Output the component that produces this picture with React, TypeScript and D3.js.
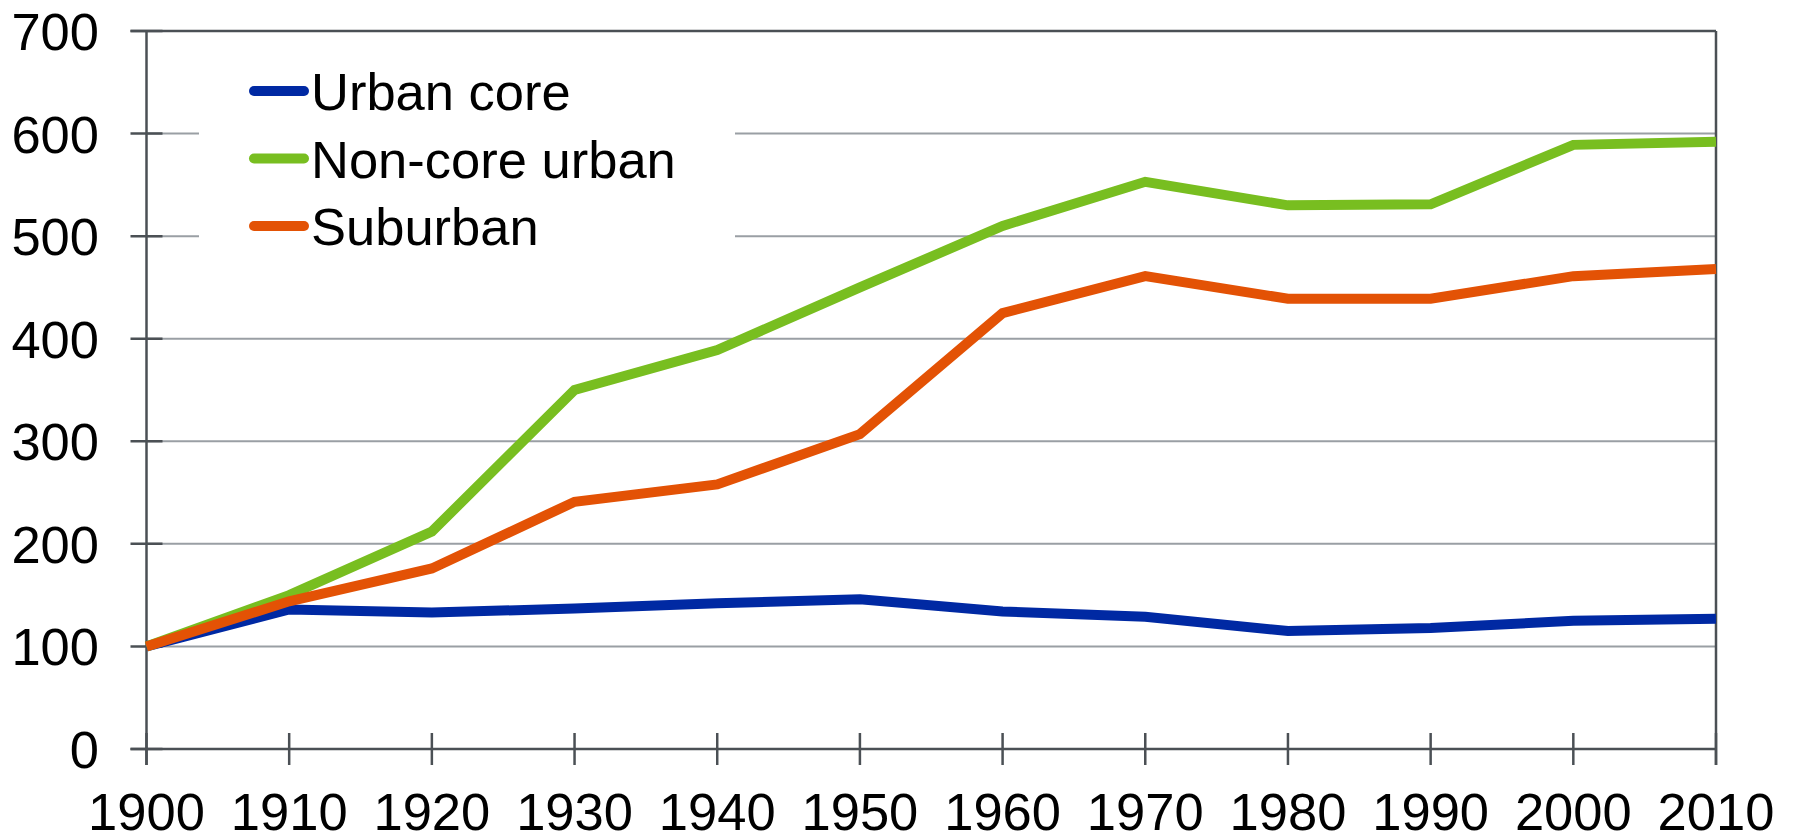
import { useEffect, useRef } from "react";
import * as d3 from "d3";

const years = [1900, 1910, 1920, 1930, 1940, 1950, 1960, 1970, 1980, 1990, 2000, 2010];
const urbanCore = [100, 136, 133, 137, 142, 146, 134, 129, 115, 118, 125, 127];
const nonCoreUrban = [100, 150, 212, 350, 389, 450, 510, 553, 530, 531, 589, 592];
const suburban = [100, 144, 176, 241, 258, 307, 425, 461, 439, 439, 461, 468];
const yTicks = [0, 100, 200, 300, 400, 500, 600, 700];

const seriesNames = ["Urban core", "Non-core urban", "Suburban"];
const seriesColors = ["#0029a3", "#78be20", "#e35205"];

const App = () => {
  const ref = useRef(null);

  const width = 1794;
  const height = 835;
  const margin = { top: 31, right: 78, bottom: 86, left: 146.5 };
  const font = "'Liberation Sans', Arial, sans-serif";
  const fontSize = 52.5;
  const axisColor = "#4b5055";
  const gridColor = "#9a9fa4";

  useEffect(() => {
    const svg = d3.select(ref.current);
    svg.selectAll("*").remove();

    const x = d3
      .scaleLinear()
      .domain([1900, 2010])
      .range([margin.left, width - margin.right]);
    const y = d3
      .scaleLinear()
      .domain([0, 700])
      .range([height - margin.bottom, margin.top]);

    // gridlines
    svg
      .append("g")
      .selectAll("line")
      .data(yTicks.filter((t) => t > 0 && t < 700))
      .join("line")
      .attr("x1", x(1900))
      .attr("x2", x(2010))
      .attr("y1", (d) => y(d))
      .attr("y2", (d) => y(d))
      .attr("stroke", gridColor)
      .attr("stroke-width", 2);

    // legend background knocks out the gridlines
    svg
      .append("rect")
      .attr("x", 199)
      .attr("y", 52)
      .attr("width", 536)
      .attr("height", 210)
      .attr("fill", "#fff");

    // frame
    const axes = svg.append("g").attr("stroke", axisColor).attr("stroke-width", 2.5);
    axes
      .append("line")
      .attr("x1", x(1900) - 16)
      .attr("x2", x(2010))
      .attr("y1", y(700))
      .attr("y2", y(700));
    axes
      .append("line")
      .attr("x1", x(1900) - 16)
      .attr("x2", x(2010))
      .attr("y1", y(0))
      .attr("y2", y(0));
    axes
      .append("line")
      .attr("x1", x(1900))
      .attr("x2", x(1900))
      .attr("y1", y(700))
      .attr("y2", y(0) + 16);
    axes
      .append("line")
      .attr("x1", x(2010))
      .attr("x2", x(2010))
      .attr("y1", y(700))
      .attr("y2", y(0) + 16);

    // ticks cross the axes
    axes
      .selectAll(".yt")
      .data(yTicks)
      .join("line")
      .attr("x1", x(1900) - 16)
      .attr("x2", x(1900) + 16)
      .attr("y1", (d) => y(d))
      .attr("y2", (d) => y(d));
    axes
      .selectAll(".xt")
      .data(years)
      .join("line")
      .attr("x1", (d) => x(d))
      .attr("x2", (d) => x(d))
      .attr("y1", y(0) - 16)
      .attr("y2", y(0) + 16);

    svg
      .append("g")
      .selectAll("text")
      .data(yTicks)
      .join("text")
      .attr("x", 99)
      .attr("y", (d) => y(d) + 19)
      .attr("text-anchor", "end")
      .attr("font-family", font)
      .attr("font-size", fontSize)
      .attr("fill", "#000")
      .text((d) => d);

    svg
      .append("g")
      .selectAll("text")
      .data(years)
      .join("text")
      .attr("x", (d) => x(d))
      .attr("y", 830)
      .attr("text-anchor", "middle")
      .attr("font-family", font)
      .attr("font-size", fontSize)
      .attr("fill", "#000")
      .text((d) => d);

    // series
    const line = d3
      .line<number>()
      .x((d, i) => x(years[i]))
      .y((d) => y(d));

    [urbanCore, nonCoreUrban, suburban].forEach((s, i) => {
      svg
        .append("path")
        .datum(s)
        .attr("d", line)
        .attr("fill", "none")
        .attr("stroke", seriesColors[i])
        .attr("stroke-width", 10)
        .attr("stroke-linejoin", "miter");
    });

    // legend
    const legend = svg
      .append("g")
      .selectAll("g")
      .data(seriesNames)
      .join("g")
      .attr("transform", (d, i) => `translate(0,${91 + i * 67.5})`);
    legend
      .append("line")
      .attr("x1", 254)
      .attr("x2", 304)
      .attr("stroke", (d, i) => seriesColors[i])
      .attr("stroke-width", 10)
      .attr("stroke-linecap", "round");
    legend
      .append("text")
      .attr("x", 311)
      .attr("y", 19)
      .attr("font-family", font)
      .attr("font-size", fontSize)
      .attr("fill", "#000")
      .text((d) => d);
  }, []);

  return (
    <svg
      ref={ref}
      width={width}
      height={height}
      style={{ position: "absolute", left: 0, top: 0, background: "#fff" }}
    ></svg>
  );
};

export default App;
